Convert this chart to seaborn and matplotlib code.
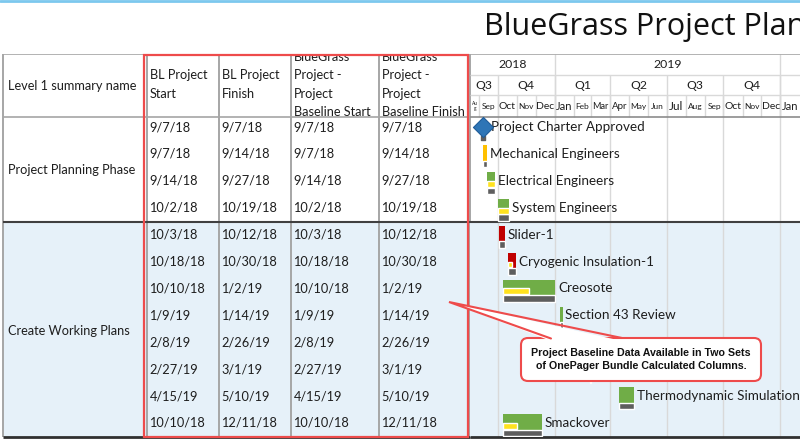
import matplotlib
matplotlib.use("Agg")
import numpy as np
import pandas as pd
import matplotlib.pyplot as plt
import matplotlib.dates as mdates
from matplotlib.patches import Rectangle, FancyBboxPatch, Polygon
import seaborn as sns

sns.set_theme(style="white")
plt.rcParams["font.family"] = ["Lato", "DejaVu Sans"]

# ---- data ----
sections = ["Project Planning Phase", "Create Working Plans"]
section_sizes = [4, 8]
task_names = ["Project Charter Approved", "Mechanical Engineers", "Electrical Engineers",
              "System Engineers", "Slider-1", "Cryogenic Insulation-1", "Creosote",
              "Section 43 Review", "", "", "Thermodynamic Simulation", "Smackover"]
bl_start = ["9/7/18", "9/7/18", "9/14/18", "10/2/18", "10/3/18", "10/18/18", "10/10/18",
            "1/9/19", "2/8/19", "2/27/19", "4/15/19", "10/10/18"]
bl_finish = ["9/7/18", "9/14/18", "9/27/18", "10/19/18", "10/12/18", "10/30/18", "1/2/19",
             "1/14/19", "2/26/19", "3/1/19", "5/10/19", "12/11/18"]
base_start = ["9/7/18", "9/7/18", "9/14/18", "10/2/18", "10/3/18", "10/18/18", "10/10/18",
              "1/9/19", "2/8/19", "2/27/19", "4/15/19", "10/10/18"]
base_finish = ["9/7/18", "9/14/18", "9/27/18", "10/19/18", "10/12/18", "10/30/18", "1/2/19",
               "1/14/19", "2/26/19", "3/1/19", "5/10/19", "12/11/18"]
status = ["milestone", "amber", "green", "green", "red", "red", "green",
          "green", "green", "green", "green", "green"]
pct_complete = [0, 0, 100, 100, 0, 50, 50, 0, 0, 0, 0, 35]
first_col_header = "Level 1 summary name"
col_headers = ["BL Project\nStart", "BL Project\nFinish",
               "BlueGrass\nProject -\nProject\nBaseline Start",
               "BlueGrass\nProject -\nProject\nBaseline Finish"]
view_start, view_end = "2018-08-17", "2020-02-02"
title = "BlueGrass Project Plan"
callout = "Project Baseline Data Available in Two Sets\nof OnePager Bundle Calculated Columns."

# ---- style ----
status_colors = {"green": "#70AD47", "amber": "#FFC000", "red": "#C00000", "milestone": "#2E75B6"}
YELLOW, GRAY, BG, RED = "#FFE21F", "#5E5E5E", "#E6F1F9", "#EE4B4B"
GRID, LIGHT = "#A6A6A6", "#D9D9D9"
FS = 9.2
FS_BAR = 9.7
TXT = "#1E1E1E"

W, H = 800, 440
ROW0_PX, ROW_PX = 127, 26.9


def ry(px):
    return (px - ROW0_PX) / ROW_PX


def box(x0, y0, x1, y1):
    return [x0 / W, 1 - y1 / H, (x1 - x0) / W, (y1 - y0) / H]


TOP, HEAD, SEC, BOT = ry(54), ry(117), ry(222), ry(437)
YR_LINE, Q_LINE = ry(75), ry(95)

fig = plt.figure(figsize=(8, 4.4), dpi=100)
axt = fig.add_axes(box(3, 54, 470, 437))
axg = fig.add_axes(box(470, 54, 800, 437))
for ax in (axt, axg):
    ax.axis("off")
    ax.axhspan(SEC, BOT, color=BG, zorder=0, lw=0)

# ---- table ----
axt.set_xlim(3, 470)
for x in [3, 146.5, 219, 291, 379, 470]:
    axt.vlines(x, TOP, BOT, color=GRID, lw=1.4, clip_on=False, zorder=2)
axt.hlines([TOP, HEAD], 3, 470, color=GRID, lw=1.2, zorder=2)
axt.hlines(SEC, 3, 470, color="#404040", lw=1.5, zorder=2)
axt.hlines(BOT, 3, 470, color="#303030", lw=2, clip_on=False, zorder=2)

axt.text(8, ry(85.5), first_col_header, va="center", fontsize=FS, color=TXT)
row0 = 0
for name, n in zip(sections, section_sizes):
    axt.text(8, row0 + (n - 1) / 2 + 0.1, name, va="center", fontsize=FS, color=TXT)
    row0 += n

col_x = [149.5, 221.5, 293.5, 381.5]
for j, series in enumerate([bl_start, bl_finish, base_start, base_finish]):
    axt.text(col_x[j], ry(84.5), col_headers[j], va="center", fontsize=FS,
             linespacing=1.62, color=TXT, clip_on=True)
    for i, d in enumerate(pd.to_datetime(series, format="%m/%d/%y")):
        axt.text(col_x[j], i, f"{d.month}/{d.day}/{d:%y}", va="center",
                 fontsize=FS, color=TXT)
axt.set_ylim(BOT, TOP)

# ---- gantt ----
x0, x1 = mdates.date2num(pd.Timestamp(view_start)), mdates.date2num(pd.Timestamp(view_end))

years = pd.date_range("2018-01-01", "2021-01-01", freq="YS")
for a, b in zip(years[:-1], years[1:]):
    an, bn = mdates.date2num(a), mdates.date2num(b)
    lo, hi = max(an, x0), min(bn, x1)
    if hi - lo > 40:
        axg.text((lo + hi) / 2, (TOP + YR_LINE) / 2, str(a.year), ha="center", va="center",
                 fontsize=8.8, color=TXT)
    if x0 < an < x1:
        axg.vlines(an, TOP, HEAD, color=LIGHT, lw=1)

quarters = pd.date_range("2018-07-01", "2020-04-01", freq="QS")
for a, b in zip(quarters[:-1], quarters[1:]):
    an, bn = mdates.date2num(a), mdates.date2num(b)
    lo, hi = max(an, x0), min(bn, x1)
    if hi - lo > 40:
        axg.text((lo + hi) / 2, (YR_LINE + Q_LINE) / 2, f"Q{a.quarter}", ha="center", va="center",
                 fontsize=8.8, color=TXT)
    if x0 < an < x1:
        axg.vlines(an, YR_LINE, BOT, color=LIGHT, lw=1, zorder=1)

big_months = {"Jul": 8.5, "Jan": 8, "Oct": 7.5, "Dec": 7.5, "Apr": 7, "Mar": 6.5}
months = pd.date_range("2018-08-01", "2020-03-01", freq="MS")
for a, b in zip(months[:-1], months[1:]):
    an, bn = mdates.date2num(a), mdates.date2num(b)
    lo, hi = max(an, x0), min(bn, x1)
    lab = a.strftime("%b")
    if hi - lo < 5:
        continue
    if hi - lo < 20:
        axg.text((lo + hi) / 2, (Q_LINE + HEAD) / 2, lab[:2] + "\n" + lab[2:], ha="center",
                 va="center", fontsize=3.5, linespacing=0.9, color=TXT)
    else:
        axg.text((lo + hi) / 2, (Q_LINE + HEAD) / 2, lab, ha="center", va="center",
                 fontsize=big_months.get(lab, 6), color=TXT)
    if x0 < an < x1:
        axg.vlines(an, Q_LINE, HEAD, color=LIGHT, lw=1)

axg.hlines([YR_LINE, Q_LINE], x0, x1, color=LIGHT, lw=1)
axg.hlines(TOP, x0, x1, color=GRID, lw=1.2)
axg.hlines(HEAD, x0, x1, color="#8C8C8C", lw=1.2, zorder=2)
axg.hlines(SEC, x0, x1, color="#404040", lw=1.5, zorder=2)
axg.hlines(BOT, x0, x1, color="#303030", lw=2, clip_on=False, zorder=2)

starts = mdates.date2num(pd.to_datetime(bl_start, format="%m/%d/%y"))
finishes = mdates.date2num(pd.to_datetime(bl_finish, format="%m/%d/%y"))
bstarts = mdates.date2num(pd.to_datetime(base_start, format="%m/%d/%y"))
bfinishes = mdates.date2num(pd.to_datetime(base_finish, format="%m/%d/%y"))

bar_top, bar_bot = -0.32, 0.25
for i in range(len(task_names)):
    s, f = starts[i], finishes[i]
    if status[i] == "milestone":
        sns.scatterplot(x=[s], y=[i], marker="D", s=105, color=status_colors["milestone"],
                        edgecolor="#1F5C99", linewidth=0.8, ax=axg, zorder=5, legend=False)
        axg.scatter([bstarts[i]], [i + 0.42], marker="s", s=10, color=GRAY, zorder=4)
        axg.annotate(task_names[i], (f, i), xytext=(6, 0), textcoords="offset points",
                     va="center", fontsize=FS_BAR, color=TXT)
        continue
    axg.barh(i + (bar_top + bar_bot) / 2, f - s, left=s, height=bar_bot - bar_top,
             color=status_colors[status[i]], edgecolor="none", zorder=3)
    if pct_complete[i]:
        axg.barh(i + 0.11, (f - s) * pct_complete[i] / 100, left=s, height=0.22,
                 color=YELLOW, zorder=4)
    axg.barh(i + (bar_bot + 0.5) / 2, bfinishes[i] - bstarts[i], left=bstarts[i],
             height=0.5 - bar_bot, color=GRAY, zorder=3)
    axg.annotate(task_names[i], (f, i), xytext=(2, 0), textcoords="offset points",
                 va="center", fontsize=FS_BAR, color=TXT)

axg.set_xlim(x0, x1)
axg.set_ylim(BOT, TOP)

# ---- overlay: title, highlight box, callout ----
ov = fig.add_axes([0, 0, 1, 1], zorder=10)
ov.set_xlim(0, W)
ov.set_ylim(H, 0)
ov.axis("off")
ov.axhline(1, color="#7CC8EE", lw=2)
ov.text(484, 27, title, fontsize=22.0, family="Open Sans", va="center", color="#111111",
        clip_on=False)
ov.add_patch(Rectangle((144, 55.5), 324, 381.5, fill=False, edgecolor=RED, lw=1.6))

ov.add_patch(FancyBboxPatch((521, 338), 240, 43, boxstyle="round,pad=0,rounding_size=7",
                            facecolor="white", edgecolor=RED, lw=1.5))
ov.add_patch(Polygon([(551, 341), (449, 302), (622, 341)], closed=True,
                     facecolor="white", edgecolor="none"))
ov.plot([551, 449, 622], [338.5, 302, 338], color=RED, lw=1.5, solid_joinstyle="miter")
ov.text(641, 359.5, callout, ha="center", va="center", fontsize=7.7, fontweight="bold",
        family="Liberation Sans", linespacing=1.3, color="#111111")

fig.savefig("out.png", dpi=100)
